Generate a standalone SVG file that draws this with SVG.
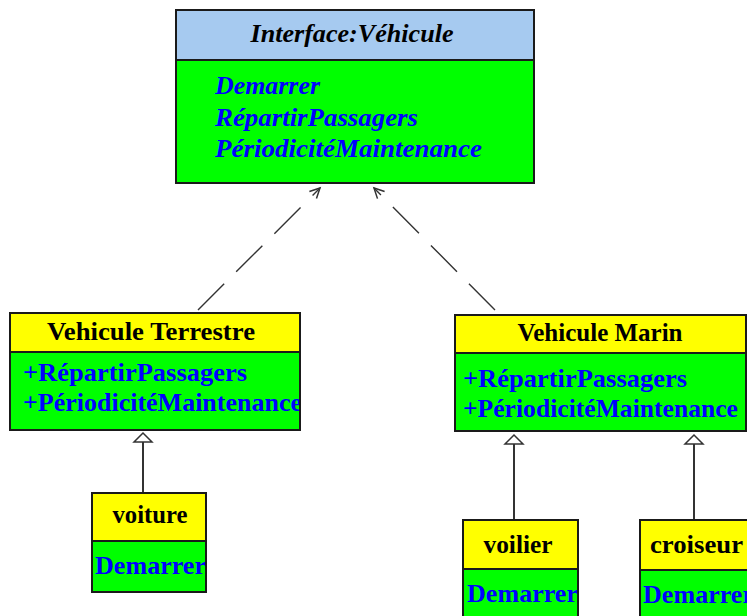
<svg xmlns="http://www.w3.org/2000/svg" width="747" height="616" viewBox="0 0 747 616">
<style>
.box{stroke:#1a1a1a;stroke-width:2}
.hdrB{fill:#A6CAF0}
.hdrY{fill:#FFFF00}
.body{fill:#00FF00}
.t{font-family:"Liberation Serif","Times New Roman",serif;font-weight:bold;font-size:25px}
.ti{font-style:italic}
.blk{fill:#000}
.blu{fill:#0000FF}
.dash{fill:none;stroke:#333;stroke-width:1.4;stroke-dasharray:37 17}
.gen{fill:none;stroke:#333;stroke-width:2}
.tri{fill:#fff;stroke:#333;stroke-width:1.5}
</style>
<defs>
<marker id="open" markerUnits="userSpaceOnUse" markerWidth="14" markerHeight="14" refX="11" refY="6" orient="auto">
<path d="M1,1 L11,6 L1,11" fill="none" stroke="#333" stroke-width="1.5"/>
</marker>
<clipPath id="cT"><rect x="10" y="313" width="290" height="117"/></clipPath>
<clipPath id="cV"><rect x="92" y="493" width="114" height="99"/></clipPath>
<clipPath id="cVo"><rect x="463" y="520" width="115" height="120"/></clipPath>
<clipPath id="cC"><rect x="640" y="520" width="115" height="120"/></clipPath>
</defs>
<rect width="747" height="616" fill="#fff"/>
<g id="connectors">
<line class="dash" x1="198" y1="310" x2="320" y2="188" marker-end="url(#open)"/>
<line class="dash" x1="495" y1="310" x2="374" y2="188" marker-end="url(#open)"/>
<line class="gen" x1="143" y1="493" x2="143" y2="442"/>
<polygon class="tri" points="143,433 134,442 152,442"/>
<line class="gen" x1="514" y1="520" x2="514" y2="444"/>
<polygon class="tri" points="514,435 505,444 523,444"/>
<line class="gen" x1="694" y1="520" x2="694" y2="444"/>
<polygon class="tri" points="694,435 685,444 703,444"/>
</g>
<g id="interface">
<rect class="box body" x="176" y="10" width="358" height="173"/>
<rect class="box hdrB" x="176" y="10" width="358" height="50"/>
<text class="t ti blk" x="352" y="42" text-anchor="middle" textLength="203" lengthAdjust="spacingAndGlyphs">Interface:Véhicule</text>
<text class="t ti blu" x="215" y="94" textLength="105" lengthAdjust="spacingAndGlyphs">Demarrer</text>
<text class="t ti blu" x="215" y="126" textLength="203" lengthAdjust="spacingAndGlyphs">RépartirPassagers</text>
<text class="t ti blu" x="215" y="157" textLength="267" lengthAdjust="spacingAndGlyphs">PériodicitéMaintenance</text>
</g>
<g id="terrestre">
<rect class="box body" x="10" y="313" width="290" height="117"/>
<rect class="box hdrY" x="10" y="313" width="290" height="39"/>
<text class="t blk" x="151" y="340" text-anchor="middle" textLength="208" lengthAdjust="spacingAndGlyphs">Vehicule Terrestre</text>
<g clip-path="url(#cT)">
<text class="t blu" x="23" y="381" textLength="224" lengthAdjust="spacingAndGlyphs">+RépartirPassagers</text>
<text class="t blu" x="23" y="411" textLength="279" lengthAdjust="spacingAndGlyphs">+PériodicitéMaintenance</text>
</g>
<rect x="10" y="313" width="290" height="117" fill="none" class="box"/>
</g>
<g id="marin">
<rect class="box body" x="455" y="315" width="291" height="116"/>
<rect class="box hdrY" x="455" y="315" width="291" height="38"/>
<text class="t blk" x="600" y="341" text-anchor="middle" textLength="165" lengthAdjust="spacingAndGlyphs">Vehicule Marin</text>
<text class="t blu" x="463" y="387" textLength="224" lengthAdjust="spacingAndGlyphs">+RépartirPassagers</text>
<text class="t blu" x="463" y="417" textLength="275" lengthAdjust="spacingAndGlyphs">+PériodicitéMaintenance</text>
</g>
<g id="voiture">
<rect class="box body" x="92" y="493" width="114" height="99"/>
<rect class="box hdrY" x="92" y="493" width="114" height="48"/>
<text class="t blk" x="150" y="523" text-anchor="middle" textLength="75" lengthAdjust="spacingAndGlyphs">voiture</text>
<g clip-path="url(#cV)">
<text class="t blu" x="95" y="574" textLength="111" lengthAdjust="spacingAndGlyphs">Demarrer</text>
</g>
<rect x="92" y="493" width="114" height="99" fill="none" class="box"/>
</g>
<g id="voilier">
<rect class="box body" x="463" y="520" width="115" height="120"/>
<rect class="box hdrY" x="463" y="520" width="115" height="49"/>
<text class="t blk" x="518" y="553" text-anchor="middle" textLength="69" lengthAdjust="spacingAndGlyphs">voilier</text>
<g clip-path="url(#cVo)">
<text class="t blu" x="467" y="602" textLength="111" lengthAdjust="spacingAndGlyphs">Demarrer</text>
</g>
<rect x="463" y="520" width="115" height="120" fill="none" class="box"/>
</g>
<g id="croiseur">
<rect class="box body" x="640" y="520" width="115" height="120"/>
<rect class="box hdrY" x="640" y="520" width="115" height="50"/>
<text class="t blk" x="650" y="553" textLength="93" lengthAdjust="spacingAndGlyphs">croiseur</text>
<g clip-path="url(#cC)">
<text class="t blu" x="643" y="603" textLength="111" lengthAdjust="spacingAndGlyphs">Demarrer</text>
</g>
</g>
</svg>
